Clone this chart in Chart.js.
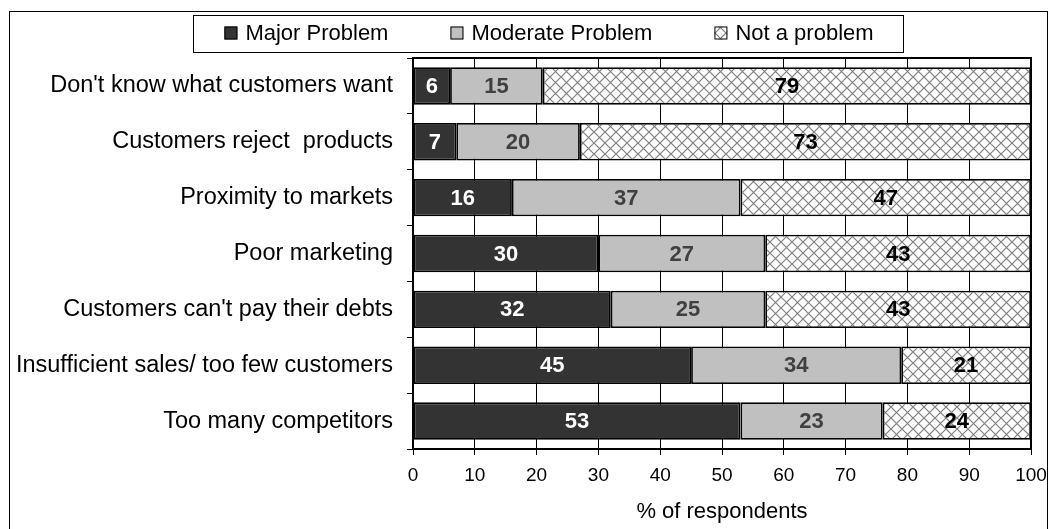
<!DOCTYPE html>
<html>
<head>
<meta charset="utf-8">
<script src="https://cdn.jsdelivr.net/npm/chart.js@4/dist/chart.umd.min.js"></script>
<style>
	html, body { margin: 0; padding: 0; background: #fff; }
	#wrap { width: 1049px; height: 529px; position: relative; }
</style>
</head>
<body>
<div id="wrap"><canvas id="barChart"></canvas></div>
<script>
const categories = [
	"Don't know what customers want",
	'Customers reject  products',
	'Proximity to markets',
	'Poor marketing',
	"Customers can't pay their debts",
	'Insufficient sales/ too few customers',
	'Too many competitors',
];
const seriesNames = ['Major Problem', 'Moderate Problem', 'Not a problem'];
const majorProblem = [6, 7, 16, 30, 32, 45, 53];
const moderateProblem = [15, 20, 37, 27, 25, 34, 23];
const notAProblem = [79, 73, 47, 43, 43, 21, 24];
const xTicks = [0, 10, 20, 30, 40, 50, 60, 70, 80, 90, 100];

const FONT = "'Liberation Sans', Arial, sans-serif";

// cross hatch fill for "Not a problem"
const makeHatch = () => {
	const size = 11;
	const c = document.createElement('canvas');
	c.width = size;
	c.height = size;
	const g = c.getContext('2d');
	g.fillStyle = '#ffffff';
	g.fillRect(0, 0, size, size);
	g.strokeStyle = '#808080';
	g.lineWidth = 1.2;
	g.beginPath();
	g.moveTo(0, 0);
	g.lineTo(size, size);
	g.moveTo(size, 0);
	g.lineTo(0, size);
	g.stroke();
	return g.createPattern(c, 'repeat');
};
const hatch = makeHatch();

const fills = ['#333333', '#c0c0c0', hatch];
const labelColors = ['#ffffff', '#404040', '#000000'];

const frame = {
	id: 'frame',
	beforeDraw(chart) {
		const ctx = chart.ctx;
		ctx.save();
		ctx.strokeStyle = '#000';
		ctx.lineWidth = 1;
		ctx.strokeRect(9.5, 11.5, 1038, 530);
		ctx.restore();
	},
	afterDraw(chart) {
		const { ctx, chartArea: a } = chart;
		ctx.save();
		ctx.strokeStyle = '#000';
		ctx.lineWidth = 2;
		ctx.beginPath();
		ctx.moveTo(a.left, a.top);
		ctx.lineTo(a.right, a.top);
		ctx.lineTo(a.right, a.bottom);
		ctx.stroke();

		// legend
		ctx.font = '22px ' + FONT;
		ctx.textBaseline = 'middle';
		const box = 13;
		const gap = 8;
		const spacing = 62;
		const widths = seriesNames.map((n) => box + gap + ctx.measureText(n).width);
		const total = widths.reduce((s, w) => s + w, 0) + spacing * (widths.length - 1);
		let x = 549 - total / 2;
		const y = 33;
		ctx.lineWidth = 1;
		ctx.strokeRect(193.5, 15.5, 710, 37);
		seriesNames.forEach((n, i) => {
			ctx.fillStyle = fills[i];
			ctx.fillRect(x, y - box / 2, box, box);
			ctx.strokeStyle = '#000';
			ctx.strokeRect(x + 0.5, y - box / 2 + 0.5, box - 1, box - 1);
			ctx.fillStyle = '#000';
			ctx.fillText(n, x + box + gap, y + 1);
			x += widths[i] + spacing;
		});
		ctx.restore();
	},
	afterDatasetsDraw(chart) {
		const ctx = chart.ctx;
		ctx.save();
		ctx.font = 'bold 22px ' + FONT;
		ctx.textAlign = 'center';
		ctx.textBaseline = 'middle';
		chart.data.datasets.forEach((ds, i) => {
			const meta = chart.getDatasetMeta(i);
			meta.data.forEach((bar, j) => {
				ctx.fillStyle = labelColors[i];
				ctx.fillText(String(ds.data[j]), (bar.x + bar.base) / 2, bar.y + 1);
			});
		});
		ctx.restore();
	},
};

const barData = {
	labels: categories,
	datasets: [majorProblem, moderateProblem, notAProblem].map((d, i) => ({
		label: seriesNames[i],
		data: d,
		backgroundColor: fills[i],
		borderColor: '#000',
		borderWidth: 1.8,
		borderSkipped: false,
		barPercentage: 0.67,
		categoryPercentage: 1,
	})),
};

new Chart(document.querySelector('#barChart'), {
	type: 'bar',
	data: barData,
	plugins: [frame],
	options: {
		indexAxis: 'y',
		responsive: true,
		maintainAspectRatio: false,
		animation: false,
		layout: { padding: { top: 58, left: 10, right: 18, bottom: 0 } },
		plugins: {
			legend: { display: false },
			tooltip: { enabled: false },
		},
		scales: {
			x: {
				stacked: true,
				min: 0,
				max: 100,
				afterBuildTicks: (scale) => {
					scale.ticks = xTicks.map((v) => ({ value: v }));
				},
				afterFit: (scale) => {
					scale.height = 80;
					scale.paddingRight = 0;
				},
				ticks: { color: '#000', font: { family: FONT, size: 19 }, padding: 9, maxRotation: 0 },
				grid: { color: '#000', lineWidth: 1, tickLength: 6 },
				border: { color: '#000', width: 2 },
				title: {
					display: true,
					text: '% of respondents',
					color: '#000',
					font: { family: FONT, size: 22 },
					padding: { top: 2, bottom: 4 },
				},
			},
			y: {
				stacked: true,
				afterFit: (scale) => {
					scale.width = 403;
				},
				ticks: { color: '#000', font: { family: FONT, size: 23.5 }, padding: 14 },
				grid: { offset: true, drawOnChartArea: false, color: '#000', tickLength: 6 },
				border: { color: '#000', width: 2 },
			},
		},
	},
});
</script>
</body>
</html>
